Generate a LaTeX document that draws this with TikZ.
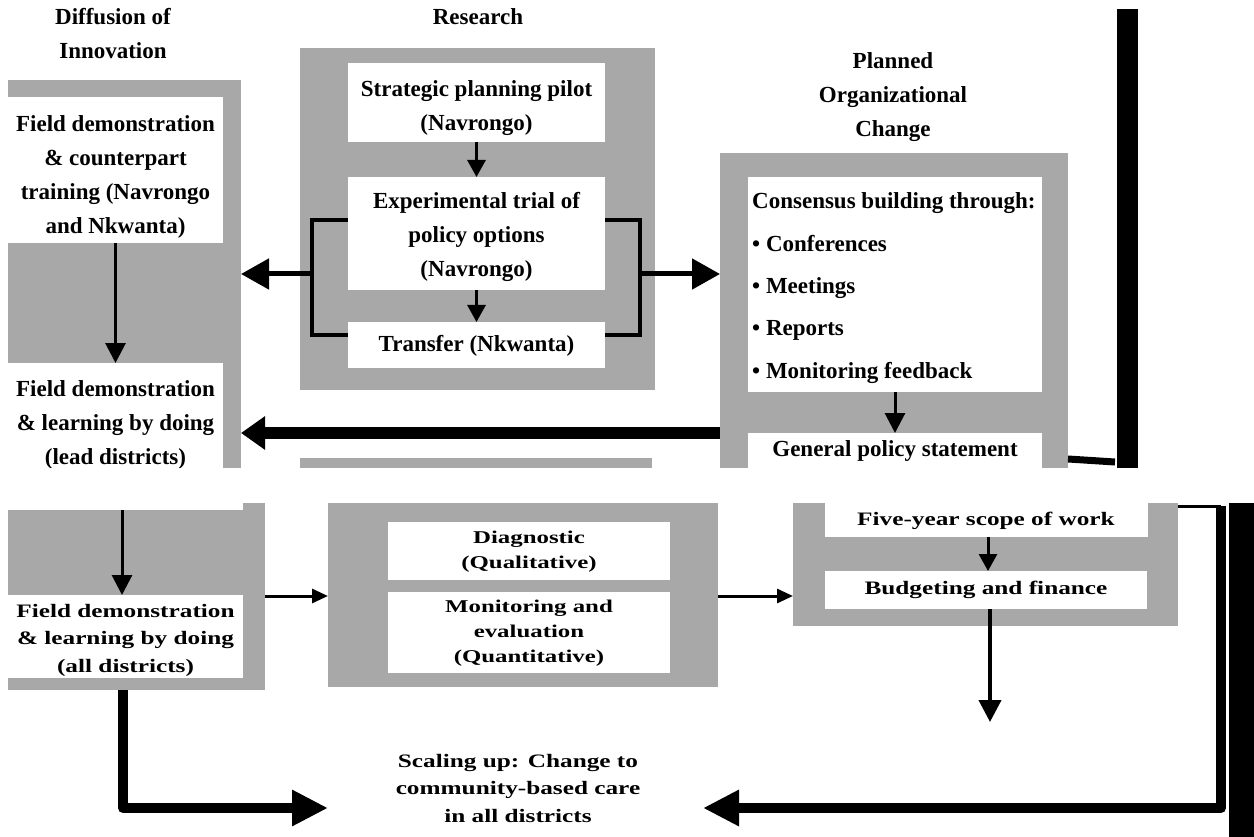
\documentclass[tikz,border=0pt]{standalone}
\usepackage{fontspec}
\setmainfont{Liberation Serif}
\newfontfamily\wide[FakeStretch=1.33]{Liberation Serif}
\newfontfamily\widemid[FakeStretch=1.38]{Liberation Serif}
\usetikzlibrary{arrows.meta,fit}
\definecolor{panelgray}{RGB}{168,168,168}
\begin{document}
\begin{tikzpicture}[x=1pt,y=-1pt,
  panel/.style={fill=panelgray, draw=none, inner sep=0pt, outer sep=0pt},
  wbox/.style={fill=white, draw=none, inner sep=0pt, outer sep=0pt},
  blk/.style={fill=black, draw=none, inner sep=0pt, outer sep=0pt},
  ttop/.style={font=\bfseries\fontsize{23}{34}\selectfont, align=center, inner sep=0pt},
  tlist/.style={font=\bfseries\fontsize{23}{42.3}\selectfont, align=left, inner sep=0pt},
  tbot/.style={font=\wide\bfseries\fontsize{19}{27.5}\selectfont, align=center, inner sep=0pt},
  tmid/.style={font=\widemid\bfseries\fontsize{18}{25}\selectfont, align=center, inner sep=0pt},
  thinarr/.style={line width=3pt, -{Triangle[width=20pt,length=20pt]}},
  smallarr/.style={line width=3pt, -{Triangle[width=18pt,length=17pt]}},
  medarr/.style={line width=5pt, -{Triangle[width=30pt,length=28pt]}},
  bigarr/.style={line width=12pt, -{Triangle[width=32pt,length=24pt]}},
  lowarr/.style={line width=3pt, -{Triangle[width=14pt,length=16pt]}},
  ellarr/.style={line width=10pt, line join=round, -{Triangle[width=34pt,length=36pt]}},
  bracket/.style={line width=4pt, line join=miter},
]
\useasboundingbox (0,0) rectangle (1254,837);
\fill[white] (0,0) rectangle (1254,837);

% ---------------- top half ----------------
\begin{scope}
\clip (0,0) rectangle (1254,467);
\node[ttop] (tDiff) at (113,34) {Diffusion of\\Innovation};
\node[ttop] (tRes) at (478,17) {Research};
\node[ttop] (tPlan) at (893,97) {Planned\\Organizational\\Change};

% left panel
\node[panel, fit={(8,80) (241,480)}] (Lp) {};
\node[wbox, fit={(8,97) (223,243)}] (A) {};
\node[ttop] (Atx) at (115.5,177) {Field demonstration\\\& counterpart\\training (Navrongo\\and Nkwanta)};
\node[wbox, fit={(8,363) (223,490)}] (B) {};
\node[ttop] (Btx) at (115.5,425) {Field demonstration\\\& learning by doing\\(lead districts)};
\draw[thinarr] (A.south) -- (B.north);

% research panel
\node[panel, fit={(300,48) (655,390)}] (Rs) {};
\node[wbox, fit={(348,63) (605,142)}] (S) {};
\node[ttop] (Stx) at (476.5,108) {Strategic planning pilot\\(Navrongo)};
\node[wbox, fit={(348,177) (605,290)}] (E) {};
\node[ttop] (Etx) at (476.5,237) {Experimental trial of\\policy options\\(Navrongo)};
\node[wbox, fit={(348,322) (605,368)}] (T) {};
\node[ttop] (Ttx) at (476.5,346) {Transfer (Nkwanta)};
\draw[smallarr] (S.south) -- (E.north);
\draw[smallarr] (E.south) -- (T.north);

% lower research panel remnant
\node[panel, fit={(300,458) (652,480)}] (Mtop) {};

% planned change panel
\node[panel, fit={(720,153) (1068,490)}] (Rp) {};
\node[wbox, fit={(748,177) (1042,392)}] (C) {};
\node[tlist, anchor=west] (Ctx) at (752,288) {Consensus building through:\\• Conferences\\• Meetings\\• Reports\\• Monitoring feedback};
\node[wbox, fit={(748,433) (1042,490)}] (G) {};
\node[ttop] (Gtx) at (895,451) {General policy statement};
\draw[thinarr] (C.south) -- (G.north);

% brackets
\coordinate (bl1) at (312,220);
\coordinate (bl2) at (312,335);
\coordinate (bl3) at (312,274);
\coordinate (br1) at (640,220);
\coordinate (br2) at (640,335);
\coordinate (br3) at (640,274);
\draw[bracket] (E.west |- bl1) -- (bl1) -- (bl2) -- (T.west |- bl2);
\draw[bracket] (E.east |- br1) -- (br1) -- (br2) -- (T.east |- br2);
\draw[medarr] (bl3) -- (bl3 -| Lp.east);
\draw[medarr] (br3) -- (br3 -| Rp.west);

% big feedback arrow
\coordinate (bigy) at (0,433);
\draw[bigarr] (Rp.west |- bigy) -- (Lp.east |- bigy);

% black bar and stub
\node[blk, fit={(1117,9) (1138,480)}] (bar1) {};
\coordinate (stub) at (1115,462);
\draw[line width=7pt] (Rp.east |- 0,459) -- (stub);
\end{scope}

% ---------------- bottom half ----------------
\begin{scope}
\clip (0,503) rectangle (1254,837);
\node[panel, fit={(8,490) (265,690)}] (LL) {};
\node[wbox, fit={(8,490) (243,510)}] (LR) {};
\node[wbox, fit={(8,595) (243,678)}] (AD) {};
\node[tbot] (ADtx) at (125.5,640) {Field demonstration\\\& learning by doing\\(all districts)};
\draw[thinarr] (LR.south -| 122,0) -- (AD.north -| 122,0);

\node[panel, fit={(328,490) (718,687)}] (MP) {};
\node[wbox, fit={(388,522) (670,580)}] (D) {};
\node[tmid] (Dtx) at (529,552) {Diagnostic\\(Qualitative)};
\node[wbox, fit={(388,592) (670,673)}] (M) {};
\node[tmid] (Mtx) at (529,633) {Monitoring and\\evaluation\\(Quantitative)};

\node[panel, fit={(793,490) (1178,626)}] (RL) {};
\node[wbox, fit={(825,490) (1148,537)}] (F) {};
\node[tbot] (Ftx) at (986,521) {Five-year scope of work};
\node[wbox, fit={(825,571) (1147,609)}] (Bu) {};
\node[tbot] (Butx) at (986,590) {Budgeting and finance};
\draw[smallarr] (F.south -| 988,0) -- (Bu.north -| 988,0);

\coordinate (ly) at (0,596);
\draw[lowarr] (LL.east |- ly) -- (MP.west |- ly);
\draw[lowarr] (MP.east |- ly) -- (RL.west |- ly);

\coordinate (dtip) at (990,722);
\draw[line width=4pt, -{Triangle[width=22pt,length=22pt]}] (Bu.south -| dtip) -- (dtip);

\node[tbot] (SC) at (518,788) {Scaling up: Change to\\community-based care\\in all districts};

\coordinate (lcorner) at (123,808);
\coordinate (tipL) at (328,808);
\draw[ellarr] (lcorner |- LL.south) -- (lcorner) -- (tipL);

\node[blk, fit={(1229,503) (1254,837)}] (bar2) {};
\coordinate (rtop) at (1221,506);
\coordinate (rcorner) at (1221,808);
\coordinate (tipR) at (703,808);
\draw[line width=3pt] (RL.east |- rtop) -- (rtop);
\draw[ellarr] (rtop) -- (rcorner) -- (tipR);
\end{scope}
\end{tikzpicture}
\end{document}
